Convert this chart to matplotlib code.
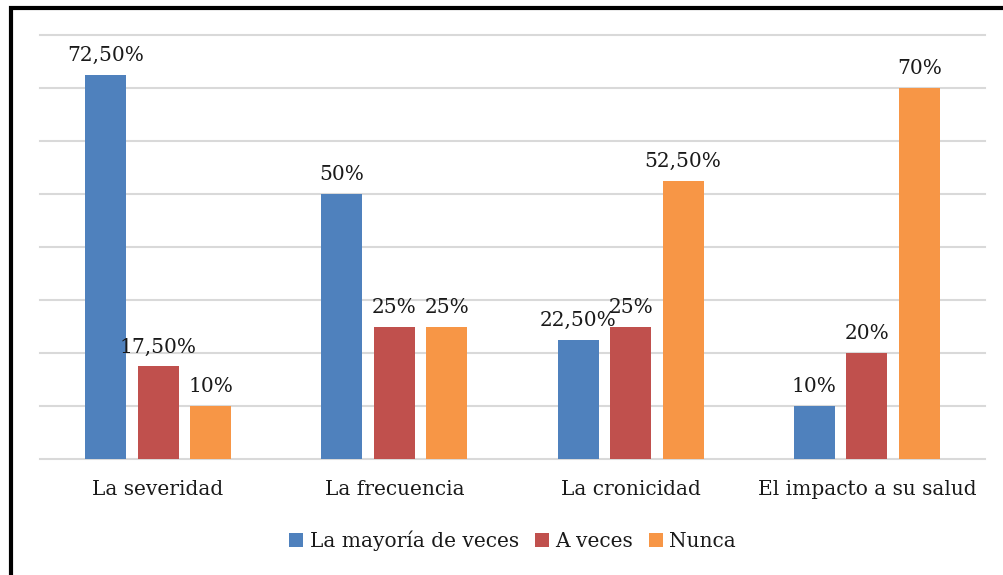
import matplotlib.pyplot as plt
from matplotlib.patches import Rectangle
import numpy as np

categories = ['La severidad', 'La frecuencia', 'La cronicidad', 'El impacto a su salud']
series_names = ['La mayoría de veces', 'A veces', 'Nunca']
mayoria = [72.5, 50, 22.5, 10]
a_veces = [17.5, 25, 25, 20]
nunca = [10, 25, 52.5, 70]
mayoria_labels = ['72,50%', '50%', '22,50%', '10%']
a_veces_labels = ['17,50%', '25%', '25%', '20%']
nunca_labels = ['10%', '25%', '52,50%', '70%']

colors = ['#4F81BD', '#C0504D', '#F79646']
plt.rcParams['font.family'] = ['DejaVu Serif']

fig = plt.figure(figsize=(10.04, 5.75), dpi=100)
ax = fig.add_axes([40/1004, 1-459/575, 945/1004, 424/575])

x = np.arange(len(categories))
width = 0.174
step = 0.222
all_vals = [mayoria, a_veces, nunca]
all_labels = [mayoria_labels, a_veces_labels, nunca_labels]
for i, (vals, labs) in enumerate(zip(all_vals, all_labels)):
    bars = ax.bar(x + (i-1)*step, vals, width, color=colors[i], label=series_names[i], zorder=3)
    for b, lab in zip(bars, labs):
        ax.annotate(lab, (b.get_x() + b.get_width()/2, b.get_height()),
                    xytext=(0, 7), textcoords='offset points',
                    ha='center', va='bottom', fontsize=14.5, color='#1a1a1a')

ax.set_xlim(-0.5, 3.5)
ax.set_ylim(0, 80)
ax.set_yticks(np.arange(0, 81, 10))
ax.set_yticklabels([])
ax.tick_params(axis='y', length=0)
ax.tick_params(axis='x', length=0, pad=15, labelsize=14.5, labelcolor='#1a1a1a')
ax.set_xticks(x)
ax.set_xticklabels(categories)
ax.grid(axis='y', color='#D9D9D9', linewidth=1.5, zorder=0)
for gl in ax.get_ygridlines():
    gl.set_clip_on(False)
for s in ax.spines.values():
    s.set_visible(False)

leg = ax.legend(loc='upper center', bbox_to_anchor=(0.5, -0.125), ncol=3, frameon=False,
                fontsize=14.5, handlelength=0.7, handleheight=0.7, handletextpad=0.3,
                columnspacing=0.8)
for t in leg.get_texts():
    t.set_color('#1a1a1a')

fig.patches.append(Rectangle((11/1004, -0.1), 1.2, 1 - 8/575 + 0.1,
                             transform=fig.transFigure, fill=False,
                             edgecolor='black', linewidth=3, zorder=10))

fig.savefig('out.png', dpi=100)
